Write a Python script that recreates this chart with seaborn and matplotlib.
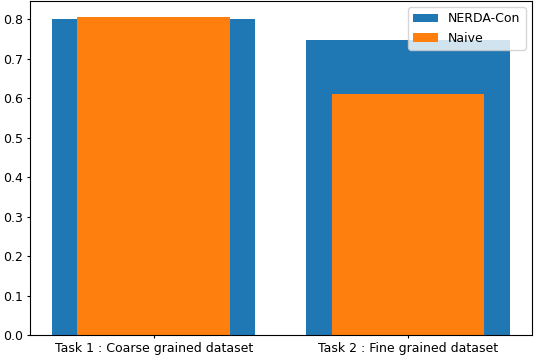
import pandas as pd
import matplotlib
matplotlib.use("Agg")
import matplotlib.pyplot as plt
import seaborn as sns

# data
tasks = ["Task 1 : Coarse grained dataset", "Task 2 : Fine grained dataset"]
nerda_con = [0.800, 0.747]
naive = [0.805, 0.610]

df = pd.DataFrame({"Task": tasks, "NERDA-Con": nerda_con, "Naive": naive})

plt.rcParams["font.size"] = 9
plt.rcParams["xtick.major.size"] = 2.5
plt.rcParams["xtick.major.pad"] = 2.2
plt.rcParams["ytick.major.size"] = 2.5
plt.rcParams["ytick.major.pad"] = 2.2

fig, ax = plt.subplots(figsize=(5.34, 3.56), dpi=100)

sns.barplot(data=df, x="Task", y="NERDA-Con", color="#1f77b4", saturation=1,
            width=0.8, label="NERDA-Con", ax=ax)
sns.barplot(data=df, x="Task", y="Naive", color="#ff7f0e", saturation=1,
            width=0.6, label="Naive", ax=ax)

ax.set_xlim(-0.487, 1.487)
ax.set_ylim(0, 0.846)
ax.set_xlabel("")
ax.set_ylabel("")
ax.legend(loc="upper right")

fig.subplots_adjust(left=0.056, right=0.996, top=0.997, bottom=0.059)
fig.savefig("out.png", dpi=100)
